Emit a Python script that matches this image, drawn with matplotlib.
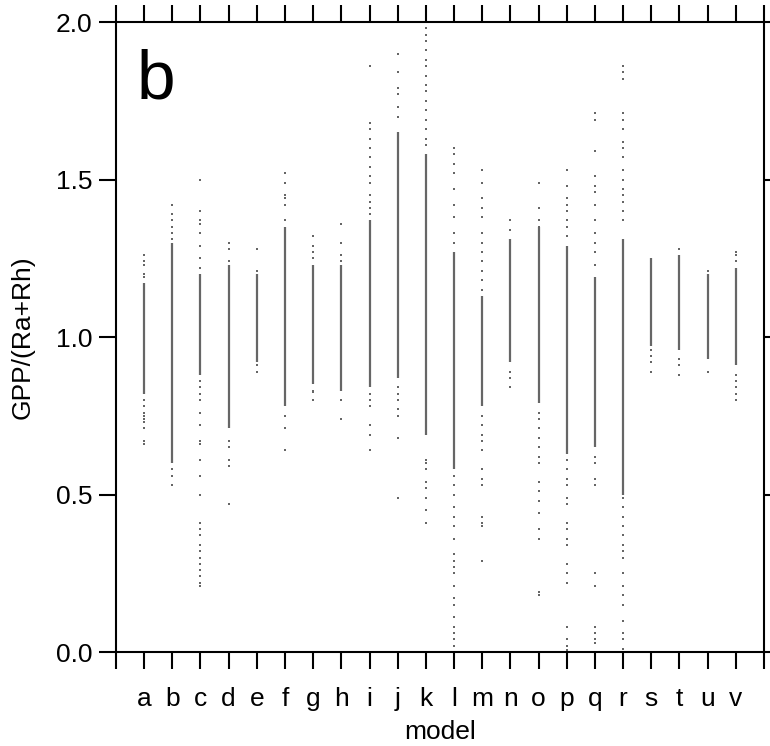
import matplotlib
matplotlib.use("Agg")
import matplotlib.pyplot as plt

plt.rcParams['font.family'] = ['Liberation Sans', 'DejaVu Sans']

models = list("abcdefghijklmnopqrstuv")

# dense part of each column (looks like a solid line)
core_top = [1.17, 1.30, 1.20, 1.23, 1.20, 1.35, 1.23, 1.23, 1.37, 1.65, 1.58,
            1.27, 1.13, 1.31, 1.35, 1.29, 1.19, 1.31, 1.25, 1.26, 1.20, 1.22]
core_bottom = [0.82, 0.60, 0.88, 0.71, 0.92, 0.78, 0.85, 0.83, 0.84, 0.87, 0.69,
               0.58, 0.78, 0.92, 0.79, 0.63, 0.65, 0.50, 0.97, 0.96, 0.93, 0.91]

# scattered points outside the dense part
stray = [
    [1.26, 1.24, 1.23, 1.20, 1.19, 0.80, 0.78, 0.76, 0.75, 0.74, 0.73, 0.71, 0.67, 0.66],
    [1.42, 1.39, 1.37, 1.35, 1.33, 1.31, 0.58, 0.56, 0.53],
    [1.50, 1.40, 1.37, 1.36, 1.33, 1.29, 1.25, 1.22, 0.86, 0.84, 0.82, 0.80, 0.76,
     0.72, 0.67, 0.66, 0.61, 0.56, 0.50, 0.41, 0.39, 0.37, 0.34, 0.32, 0.30, 0.28,
     0.26, 0.24, 0.22, 0.21],
    [1.30, 1.28, 1.24, 0.67, 0.65, 0.61, 0.59, 0.47],
    [1.28, 1.21, 0.91, 0.89],
    [1.52, 1.49, 1.45, 1.44, 1.42, 1.37, 0.75, 0.71, 0.64],
    [1.32, 1.29, 1.27, 1.25, 0.83, 0.826, 0.80],
    [1.36, 1.30, 1.26, 1.24, 0.80, 0.74],
    [1.86, 1.68, 1.66, 1.63, 1.60, 1.57, 1.54, 1.51, 1.49, 1.45, 1.43, 1.41, 1.39,
     0.82, 0.80, 0.78, 0.72, 0.69, 0.64],
    [1.90, 1.84, 1.79, 1.77, 1.73, 1.70, 0.84, 0.82, 0.80, 0.77, 0.75, 0.68, 0.49],
    [1.98, 1.96, 1.94, 1.91, 1.88, 1.86, 1.83, 1.80, 1.78, 1.75, 1.72, 1.69, 1.66,
     1.63, 1.61, 0.61, 0.60, 0.58, 0.54, 0.52, 0.49, 0.45, 0.41],
    [1.60, 1.58, 1.55, 1.52, 1.47, 1.42, 1.38, 1.33, 1.30, 0.56, 0.53, 0.50, 0.46,
     0.43, 0.40, 0.36, 0.31, 0.29, 0.27, 0.25, 0.21, 0.17, 0.15, 0.11, 0.08, 0.06,
     0.04, 0.02],
    [1.53, 1.49, 1.44, 1.41, 1.38, 1.33, 1.30, 1.27, 1.24, 1.21, 1.18, 1.15, 0.75,
     0.72, 0.69, 0.67, 0.64, 0.58, 0.55, 0.53, 0.43, 0.41, 0.40, 0.29],
    [1.37, 1.34, 0.89, 0.87, 0.84],
    [1.49, 1.41, 1.37, 1.35, 0.76, 0.74, 0.71, 0.68, 0.65, 0.62, 0.60, 0.54, 0.51,
     0.48, 0.44, 0.39, 0.36, 0.19, 0.18],
    [1.53, 1.48, 1.44, 1.42, 1.40, 1.37, 1.35, 1.32, 0.61, 0.58, 0.55, 0.53, 0.49,
     0.47, 0.41, 0.39, 0.36, 0.34, 0.28, 0.25, 0.22, 0.08, 0.04, 0.02, 0.006],
    [1.71, 1.69, 1.59, 1.51, 1.48, 1.46, 1.42, 1.37, 1.33, 1.30, 1.27, 1.23, 0.62,
     0.60, 0.55, 0.53, 0.25, 0.21, 0.08, 0.06, 0.04, 0.03],
    [1.86, 1.84, 1.82, 1.71, 1.69, 1.66, 1.62, 1.60, 1.57, 1.53, 1.50, 1.47, 1.45,
     1.43, 1.40, 1.37, 0.49, 0.46, 0.43, 0.40, 0.37, 0.34, 0.32, 0.30, 0.25, 0.21,
     0.18, 0.15, 0.10, 0.06, 0.04, 0.01],
    [0.96, 0.94, 0.92, 0.89],
    [1.28, 0.93, 0.91, 0.88],
    [1.21, 0.89],
    [1.27, 1.26, 1.24, 0.88, 0.86, 0.84, 0.82, 0.80],
]

fig = plt.figure(figsize=(7.7, 7.46), dpi=100)
ax = fig.add_axes([0.1506, 0.126, 0.8416, 0.8445])

xs = list(range(1, len(models) + 1))
ax.vlines(xs, core_bottom, core_top, color='0.4', linewidth=1.6, zorder=2)
for x, pts in zip(xs, stray):
    ax.plot([x] * len(pts), pts, linestyle='none', marker='s', markersize=1.5,
            markeredgewidth=0, color='0.4', zorder=2)

ax.set_xlim(0, len(models) + 1)
ax.set_ylim(0, 2.0)

ax.set_xticks(range(0, len(models) + 2))
ax.set_xticklabels([''] + models + [''])
ax.set_yticks([0, 0.5, 1.0, 1.5, 2.0])
ax.set_yticklabels(['0.0', '0.5', '1.0', '1.5', '2.0'])

ax.tick_params(axis='x', which='major', direction='out', length=12, width=1.5,
               top=True, bottom=True, labelsize=19, pad=13)
ax.tick_params(axis='y', which='major', direction='out', length=12, width=1.5,
               left=True, right=True, labelsize=19, pad=5)
for sp in ax.spines.values():
    sp.set_linewidth(1.5)

ax.set_xlabel('model', fontsize=19, labelpad=7)
ax.set_ylabel('GPP/(Ra+Rh)', fontsize=19, labelpad=15)

ax.text(0.032, 0.879, 'b', transform=ax.transAxes, fontsize=50,
        va='baseline', ha='left')

fig.savefig('out.png', dpi=100)
